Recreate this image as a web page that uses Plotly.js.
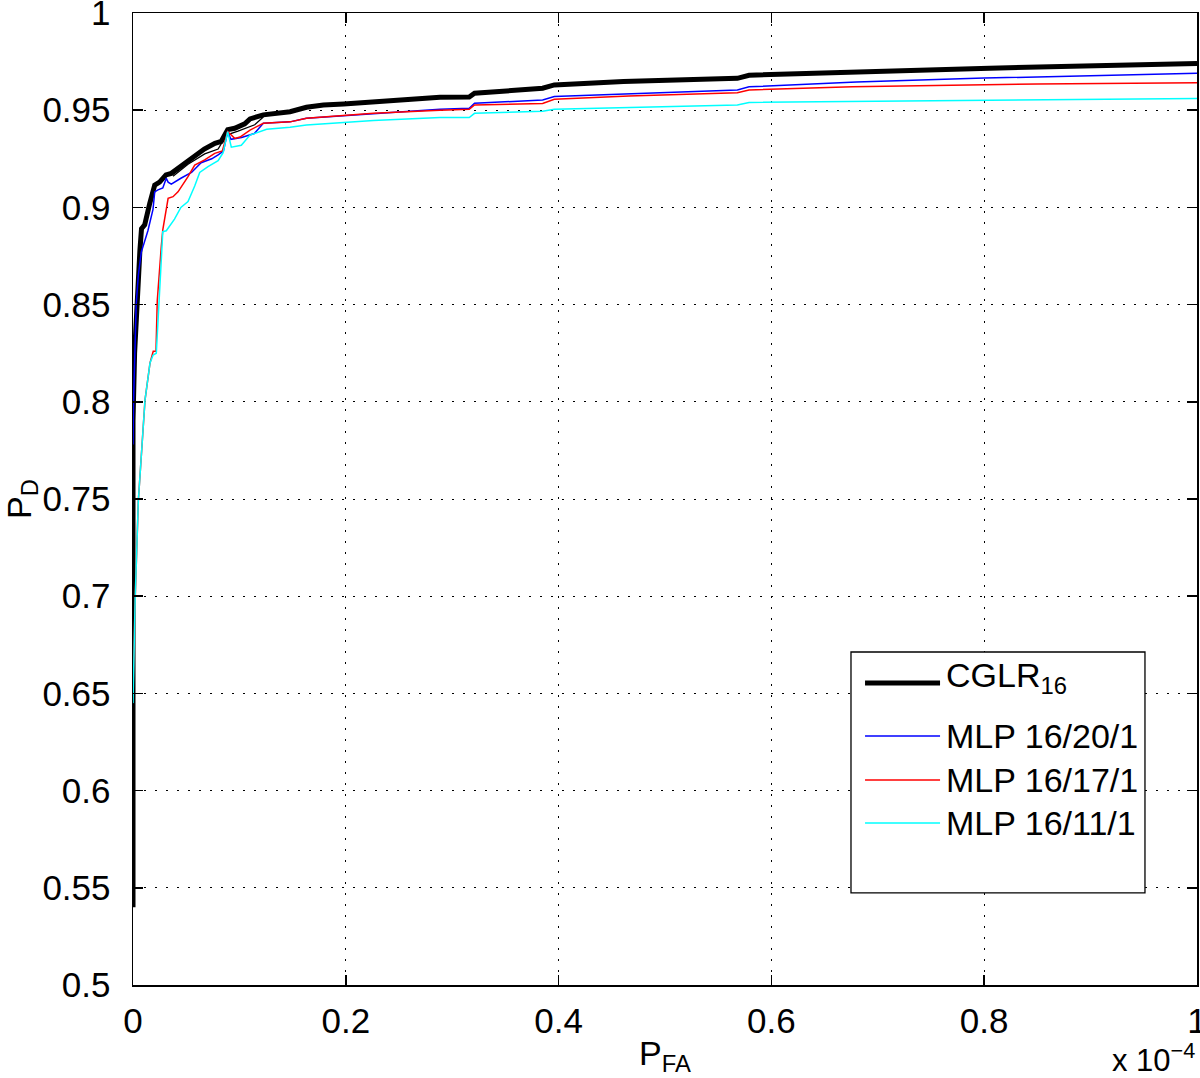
<!DOCTYPE html>
<html>
<head>
<meta charset="utf-8">
<script src="https://cdn.plot.ly/plotly-3.0.1.min.js"></script>
<style>html,body{margin:0;padding:0;background:#fff;}#chart{width:1200px;height:1078px;}</style>
</head>
<body>
<div id="chart"></div>
<script>
// ---- Data (P_FA in units of 1e-4) ----
const pfaCGLR = [0, 0, 0.0015, 0.004, 0.0065, 0.008, 0.011, 0.0157, 0.0204, 0.025, 0.031, 0.036, 0.042, 0.050, 0.058, 0.067, 0.077, 0.083, 0.089, 0.0956, 0.105, 0.11, 0.1225, 0.1476, 0.163, 0.179, 0.198, 0.226, 0.257, 0.2885, 0.316, 0.321, 0.385, 0.396, 0.461, 0.568, 0.579, 0.676, 0.805, 1.0];
const pdCGLR  = [0.54, 0.79, 0.825, 0.857, 0.878, 0.889, 0.891, 0.902, 0.9115, 0.913, 0.9167, 0.9175, 0.920, 0.9235, 0.927, 0.930, 0.933, 0.934, 0.940, 0.9407, 0.943, 0.9455, 0.9476, 0.9492, 0.9515, 0.9527, 0.9532, 0.9544, 0.9556, 0.9566, 0.9568, 0.9587, 0.9613, 0.963, 0.9647, 0.9664, 0.968, 0.9698, 0.9716, 0.974];

const pfaCGLRthin = [0.0376, 0.0517, 0.0674, 0.08, 0.0877, 0.0987, 0.1144, 0.1225];
const pdCGLRthin  = [0.9160, 0.9222, 0.9275, 0.9300, 0.9372, 0.9392, 0.9425, 0.9465];

const pfaMLP20 = [0, 0.0005, 0.002, 0.003, 0.005, 0.0078, 0.014, 0.0188, 0.0204, 0.0235, 0.028, 0.0313, 0.033, 0.036, 0.045, 0.055, 0.064, 0.074, 0.080, 0.085, 0.089, 0.092, 0.102, 0.114, 0.1225, 0.1476, 0.163, 0.1945, 0.226, 0.2885, 0.316, 0.321, 0.385, 0.396, 0.568, 0.579, 0.68, 0.8, 1.0];
const pdMLP20  = [0.778, 0.80, 0.83, 0.85, 0.865, 0.877, 0.888, 0.899, 0.908, 0.909, 0.910, 0.915, 0.913, 0.912, 0.915, 0.918, 0.923, 0.925, 0.927, 0.929, 0.939, 0.935, 0.936, 0.938, 0.9433, 0.944, 0.9458, 0.947, 0.9484, 0.9505, 0.951, 0.9536, 0.9552, 0.957, 0.9604, 0.962, 0.9645, 0.9665, 0.969];

const pfaMLP17 = [0, 0.002, 0.005, 0.008, 0.0113, 0.016, 0.019, 0.0216, 0.0228, 0.0266, 0.028, 0.033, 0.0376, 0.0423, 0.0517, 0.058, 0.0674, 0.0768, 0.084, 0.089, 0.0956, 0.1006, 0.11, 0.1225, 0.1476, 0.163, 0.1945, 0.226, 0.2885, 0.316, 0.321, 0.385, 0.396, 0.466, 0.568, 0.579, 0.676, 0.85, 1.0];
const pdMLP17  = [0.650, 0.698, 0.749, 0.775, 0.801, 0.820, 0.826, 0.826, 0.852, 0.880, 0.8884, 0.9047, 0.9055, 0.908, 0.9158, 0.9218, 0.9244, 0.9278, 0.929, 0.939, 0.9355, 0.9362, 0.9398, 0.9433, 0.944, 0.9458, 0.947, 0.9484, 0.950, 0.9505, 0.9527, 0.9535, 0.9556, 0.9573, 0.959, 0.9604, 0.962, 0.9635, 0.9641];

const pfaMLP11 = [0, 0.002, 0.005, 0.008, 0.0113, 0.016, 0.0188, 0.0219, 0.025, 0.0266, 0.028, 0.0313, 0.039, 0.045, 0.0517, 0.058, 0.0627, 0.0705, 0.08, 0.0846, 0.089, 0.0924, 0.1018, 0.11, 0.1256, 0.1476, 0.163, 0.1945, 0.226, 0.2885, 0.316, 0.321, 0.385, 0.396, 0.568, 0.579, 0.8, 1.0];
const pdMLP11  = [0.645, 0.698, 0.749, 0.775, 0.801, 0.820, 0.824, 0.825, 0.857, 0.880, 0.8875, 0.888, 0.894, 0.900, 0.903, 0.911, 0.918, 0.921, 0.924, 0.928, 0.939, 0.931, 0.932, 0.9372, 0.9402, 0.9412, 0.9424, 0.9436, 0.9447, 0.9462, 0.9462, 0.9484, 0.9495, 0.9505, 0.9527, 0.954, 0.955, 0.956];

const xTickVals = [0, 0.2, 0.4, 0.6, 0.8, 1];
const xTickText = ['0', '0.2', '0.4', '0.6', '0.8', '1'];
const yTickVals = [0.5, 0.55, 0.6, 0.65, 0.7, 0.75, 0.8, 0.85, 0.9, 0.95, 1];
const yTickText = ['0.5', '0.55', '0.6', '0.65', '0.7', '0.75', '0.8', '0.85', '0.9', '0.95', '1'];

const seriesNames = ['CGLR<sub>16</sub>', 'MLP 16/20/1', 'MLP 16/17/1', 'MLP 16/11/1'];
const seriesColors = ['#000000', '#0000ff', '#ff0000', '#00ffff'];
const seriesWidths = [5, 1.5, 1.5, 1.5];

const FONT = 'Liberation Sans, Arial, Helvetica, sans-serif';

const traces = [
  {x: pfaCGLR, y: pdCGLR, name: seriesNames[0], mode: 'lines', line: {color: seriesColors[0], width: seriesWidths[0]}},
  {x: pfaCGLRthin, y: pdCGLRthin, name: 'CGLR (thin)', mode: 'lines', line: {color: '#000', width: 1.3}},
  {x: pfaMLP20, y: pdMLP20, name: seriesNames[1], mode: 'lines', line: {color: seriesColors[1], width: seriesWidths[1]}},
  {x: pfaMLP17, y: pdMLP17, name: seriesNames[2], mode: 'lines', line: {color: seriesColors[2], width: seriesWidths[2]}},
  {x: pfaMLP11, y: pdMLP11, name: seriesNames[3], mode: 'lines', line: {color: seriesColors[3], width: seriesWidths[3]}}
];
traces.forEach(t => t.showlegend = false);

// Custom MATLAB-style legend (paper coordinates)
const legBox = {x0: 0.6748, x1: 0.9511, y0: 0.0947, y1: 0.3426};
const legLineX = [0.6880, 0.7585];
const legRowsY = [0.3107, 0.2562, 0.2109, 0.1667];
const legTextY = [0.3160, 0.2562, 0.2109, 0.1667];
const legTextX = 0.7622;

const shapes = [{type: 'rect', xref: 'paper', yref: 'paper', x0: legBox.x0, x1: legBox.x1, y0: legBox.y0, y1: legBox.y1,
  line: {color: '#000', width: 1.3}, fillcolor: '#fff', layer: 'above'}];
const annotations = [];
for (let i = 0; i < 4; i++) {
  shapes.push({type: 'line', xref: 'paper', yref: 'paper', x0: legLineX[0], x1: legLineX[1], y0: legRowsY[i], y1: legRowsY[i],
    line: {color: seriesColors[i], width: i === 0 ? 5 : 1.5}, layer: 'above'});
  annotations.push({xref: 'paper', yref: 'paper', x: legTextX, y: legTextY[i], xanchor: 'left', yanchor: 'middle',
    text: seriesNames[i], showarrow: false, font: {family: FONT, size: 34, color: '#000'}});
}
annotations.push({xref: 'paper', yref: 'paper', x: 1.0, y: -0.052, xanchor: 'right', yanchor: 'top',
  text: 'x 10<sup>\u22124</sup>', showarrow: false, font: {family: FONT, size: 31, color: '#000'}});

const axisCommon = {
  tickmode: 'array',
  ticklabeloverflow: 'allow',
  showline: true, linecolor: '#000', linewidth: 1.5, mirror: 'ticks',
  ticks: 'inside', ticklen: 10, tickwidth: 1.5, tickcolor: '#000',
  showgrid: true, gridcolor: '#000', gridwidth: 1, griddash: '2px,9px',
  zeroline: false, tickfont: {family: FONT, size: 35, color: '#000'}
};

const layout = {
  width: 1200, height: 1078,
  margin: {l: 133, r: 3, t: 13, b: 93},
  paper_bgcolor: '#fff', plot_bgcolor: '#fff',
  showlegend: false,
  font: {family: FONT, color: '#000'},
  xaxis: Object.assign({}, axisCommon, {range: [0, 1], tickvals: xTickVals, ticktext: xTickText, ticklabelstandoff: 4,
    title: {text: 'P<sub>FA</sub>', font: {family: FONT, size: 34, color: '#000'}, standoff: 2}}),
  yaxis: Object.assign({}, axisCommon, {range: [0.5, 1], tickvals: yTickVals, ticktext: yTickText, ticklabelstandoff: 14,
    title: {text: 'P<sub>D</sub>', font: {family: FONT, size: 34, color: '#000'}, standoff: 0}}),
  shapes: shapes,
  annotations: annotations
};

Plotly.newPlot('chart', traces, layout, {displayModeBar: false, staticPlot: true});
</script>
</body>
</html>
